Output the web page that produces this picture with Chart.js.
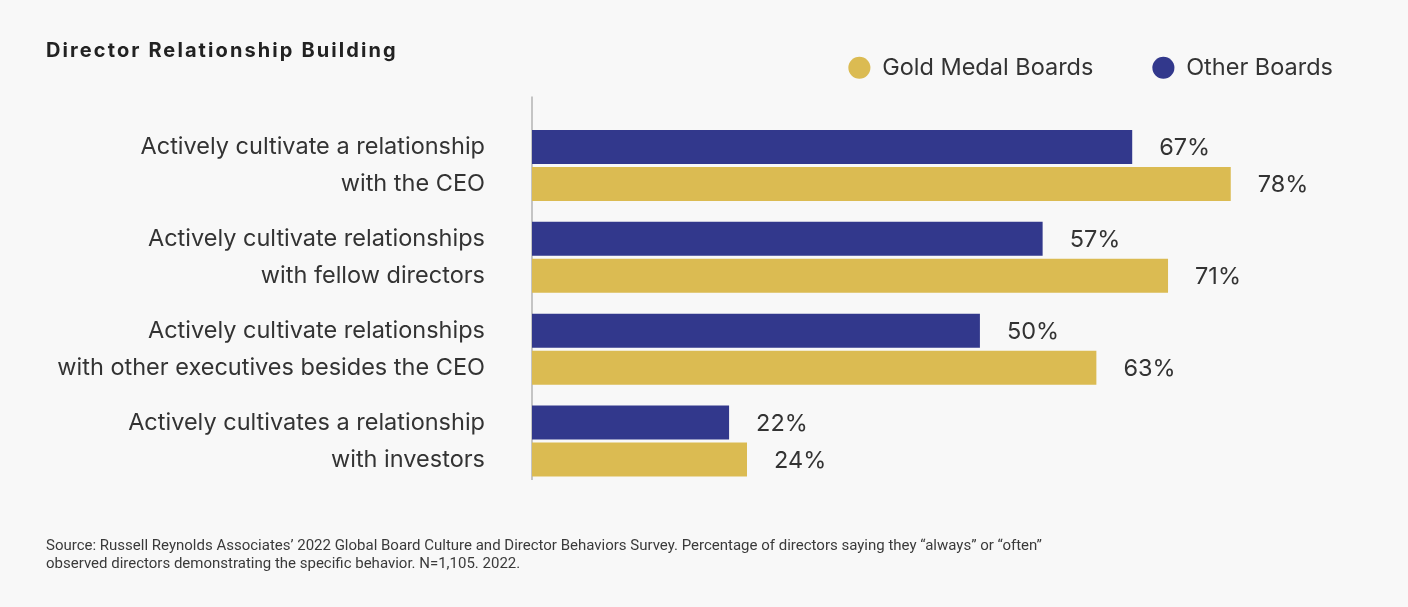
<!DOCTYPE html>
<html>
<head>
<meta charset="utf-8">
<title>Director Relationship Building</title>
<script src="https://cdn.jsdelivr.net/npm/chart.js@4.4.1/dist/chart.umd.min.js"></script>
<style>
  html, body { margin: 0; padding: 0; background: #f8f8f8; }
  #wrap { position: relative; width: 1408px; height: 607px; overflow: hidden; }
  #chartBox { position: absolute; left: 0; top: 0; width: 1408px; height: 607px; }
  #title {
    position: absolute; left: 46px; top: 38px;
    font: bold 20px/24px Inter, sans-serif; color: #222;
    letter-spacing: 2.1px;
  }
  #source {
    position: absolute; left: 46px; top: 536px; width: 1200px;
    font: 15px/18px Roboto, sans-serif; color: #3a3a3a;
  }
</style>
</head>
<body>
<div id="wrap">
  <div id="chartBox"><canvas id="dataChart"></canvas></div>
  <div id="title">Director Relationship Building</div>
  <div id="source">Source: Russell Reynolds Associates’ 2022 Global Board Culture and Director Behaviors Survey. Percentage of directors saying they “always” or “often”<br>observed directors demonstrating the specific behavior. N=1,105. 2022.</div>
</div>

<script>
// chart data
var categories = [
  ['Actively cultivate a relationship', 'with the CEO'],
  ['Actively cultivate relationships', 'with fellow directors'],
  ['Actively cultivate relationships', 'with other executives besides the CEO'],
  ['Actively cultivates a relationship', 'with investors']
];
var otherBoards = [67, 57, 50, 22];
var goldMedalBoards = [78, 71, 63, 24];

var blue = '#32388c';
var gold = '#dbbb52';
var textColor = '#333333';
var fontSize = 23.5;

// draws the % label next to each bar
var valueLabels = {
  id: 'valueLabels',
  afterDatasetsDraw: function(chart) {
    var ctx = chart.ctx;
    ctx.save();
    ctx.font = fontSize + 'px Inter, sans-serif';
    ctx.fillStyle = textColor;
    ctx.textAlign = 'left';
    ctx.textBaseline = 'middle';
    chart.data.datasets.forEach(function(ds, i) {
      chart.getDatasetMeta(i).data.forEach(function(bar, j) {
        ctx.fillText(ds.data[j] + '%', bar.x + 27, bar.y + 1);
      });
    });
    ctx.restore();
  }
};

// thin vertical axis line at zero
var zeroLine = {
  id: 'zeroLine',
  beforeDatasetsDraw: function(chart) {
    var ctx = chart.ctx;
    var area = chart.chartArea;
    var x = chart.scales.x.getPixelForValue(0);
    ctx.save();
    ctx.strokeStyle = '#b3b3b3';
    ctx.lineWidth = 1.5;
    ctx.beginPath();
    ctx.moveTo(x, area.top - 23);
    ctx.lineTo(x, area.bottom - 7);
    ctx.stroke();
    ctx.restore();
  }
};

function createChart() {
  var ctx = document.getElementById('dataChart');
  new Chart(ctx, {
    type: 'bar',
    data: {
      labels: categories,
      datasets: [{
        label: 'Other Boards',
        data: otherBoards,
        backgroundColor: blue,
        borderWidth: 0
      },
      {
        label: 'Gold Medal Boards',
        data: goldMedalBoards,
        backgroundColor: gold,
        borderWidth: 0
      }]
    },
    options: {
      indexAxis: 'y',
      responsive: true,
      maintainAspectRatio: false,
      animation: false,
      categoryPercentage: 0.804,
      barPercentage: 0.919,
      layout: {
        padding: { top: -3, right: 16, bottom: 120, left: 0 }
      },
      plugins: {
        legend: {
          position: 'top',
          align: 'end',
          reverse: true,
          labels: {
            usePointStyle: true,
            pointStyle: 'circle',
            boxWidth: 22,
            boxHeight: 15.6,
            padding: 59,
            color: textColor,
            font: { family: 'Inter, sans-serif', size: fontSize }
          }
        },
        tooltip: { enabled: false }
      },
      scales: {
        x: {
          position: 'top',
          min: 0,
          max: 96,
          grid: { display: false },
          border: { display: false },
          ticks: { display: false },
          afterFit: function(scale) { scale.height = 30; }
        },
        y: {
          grid: { display: false, drawTicks: false },
          border: { display: false },
          ticks: {
            padding: 47,
            color: textColor,
            font: { family: 'Inter, sans-serif', size: fontSize, lineHeight: 1.58 }
          },
          afterFit: function(scale) { scale.width = 532; }
        }
      }
    },
    plugins: [zeroLine, valueLabels]
  });
}

createChart();
</script>
</body>
</html>
